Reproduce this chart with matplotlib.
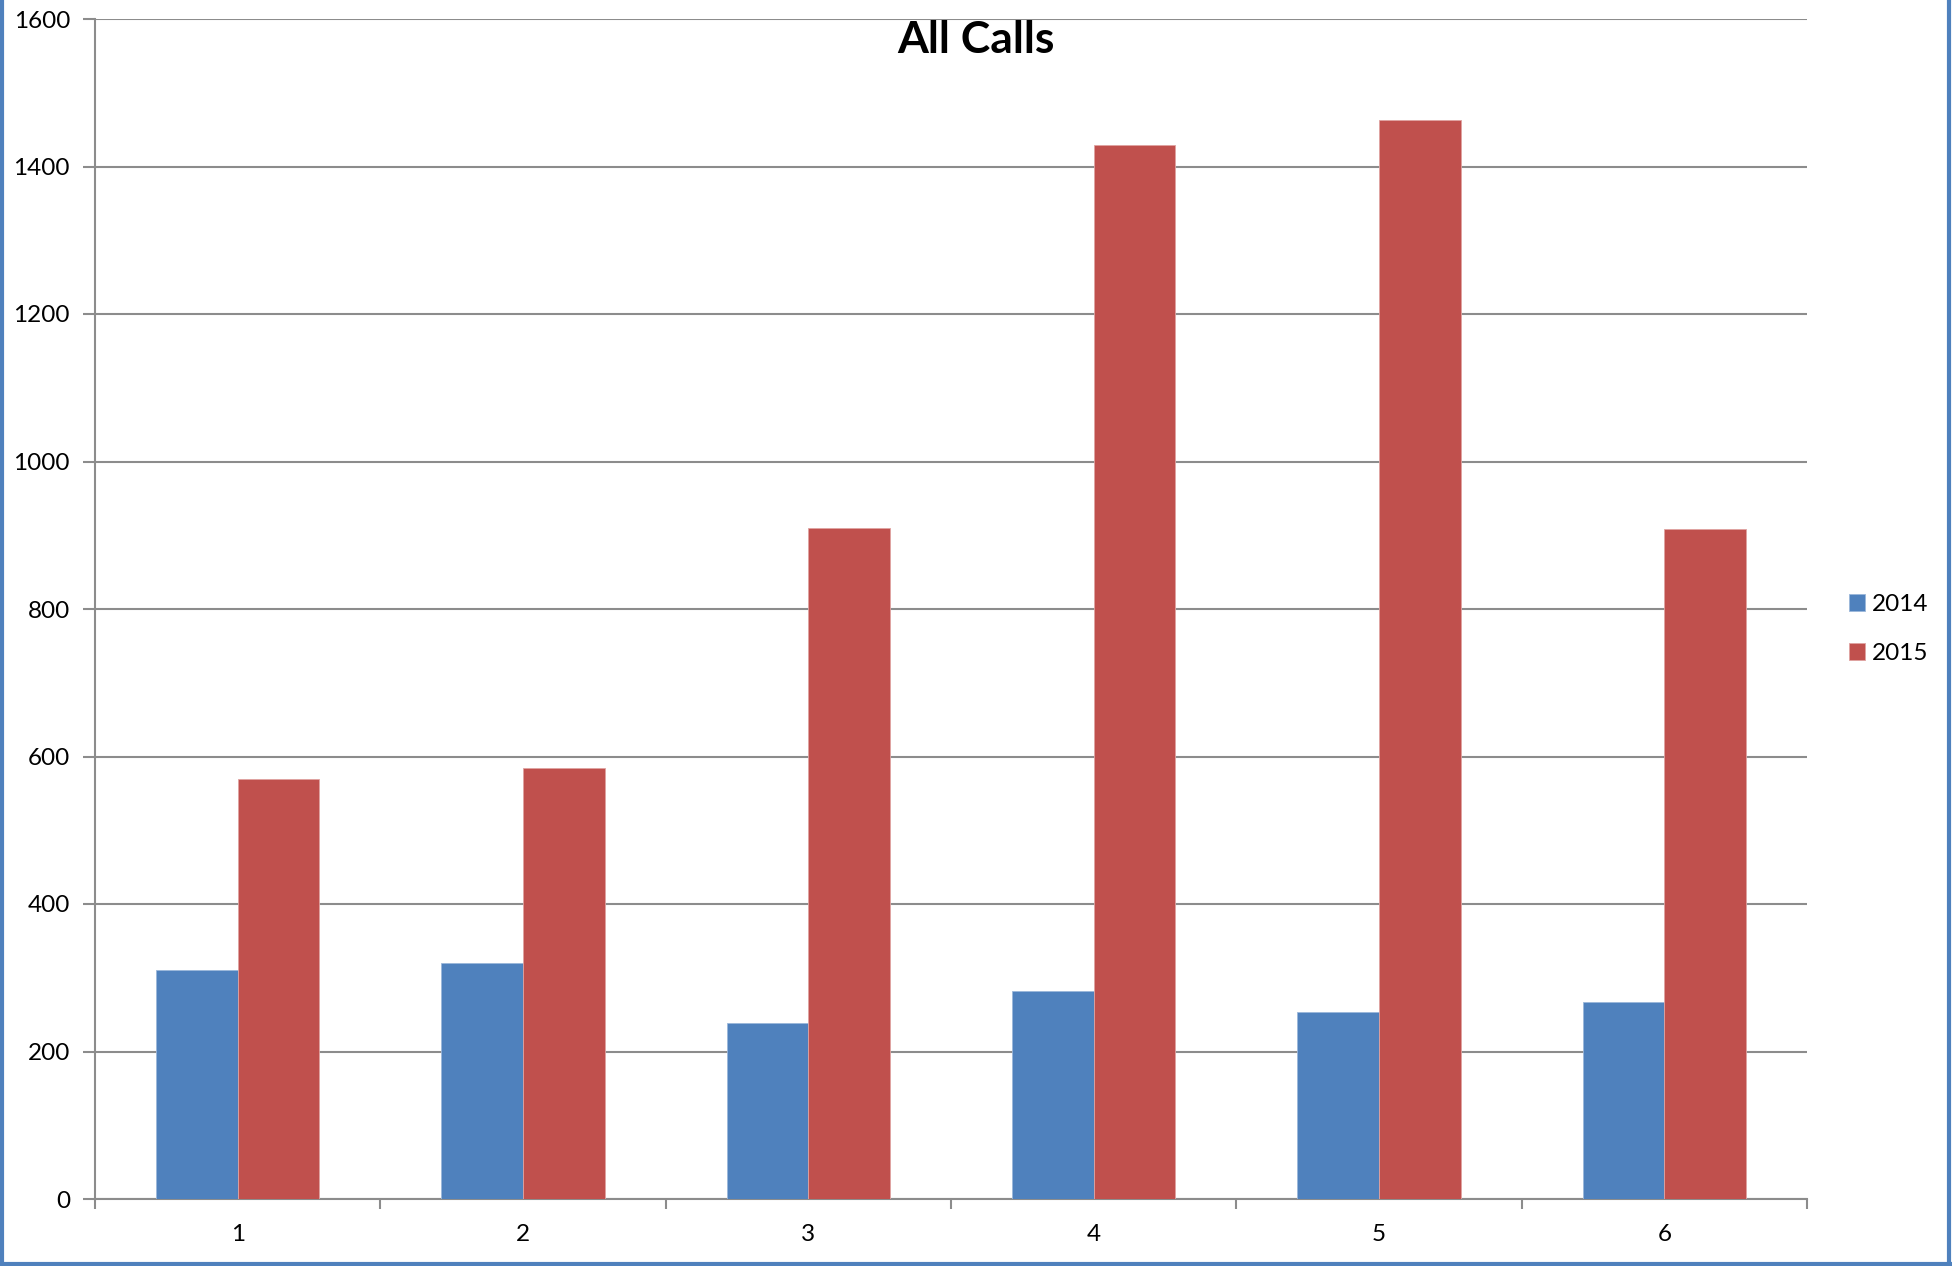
import numpy as np
import matplotlib.pyplot as plt
from matplotlib.lines import Line2D

plt.rcParams['font.family'] = ['Lato', 'DejaVu Sans']

categories = ['1', '2', '3', '4', '5', '6']
calls_2014 = [311, 320, 239, 282, 253, 267]
calls_2015 = [569, 584, 910, 1429, 1463, 908]

blue = '#4F81BD'
red = '#C0504D'
grid_gray = '#8C8C8C'

fig = plt.figure(figsize=(19.52, 12.66), dpi=100)
ax = fig.add_axes([95 / 1952, 1 - 1199 / 1266, (1807 - 95) / 1952, (1199 - 19) / 1266])

x = np.arange(1, len(categories) + 1)
w = 1 / 3.5  # gap width 150%
ax.bar(x - w / 2, calls_2014, w, color=blue, edgecolor='#9BB7DA', linewidth=0.6, label='2014', zorder=3)
ax.bar(x + w / 2, calls_2015, w, color=red, edgecolor='#E0A3A1', linewidth=0.6, label='2015', zorder=3)

ax.set_xlim(0.5, len(categories) + 0.5)
ax.set_ylim(0, 1600)
ax.set_yticks(range(0, 1601, 200))
ax.yaxis.grid(True, color=grid_gray, linewidth=1.5, zorder=0)

# ticks sit between categories, labels at the centres
ax.set_xticks(np.arange(0.5, len(categories) + 1, 1))
ax.set_xticklabels([])
ax.set_xticks(x, minor=True)
ax.set_xticklabels(categories, minor=True)
ax.tick_params(axis='x', which='major', direction='out', length=7, width=1.5, color=grid_gray)
ax.tick_params(axis='x', which='minor', length=0, pad=18, labelsize=17.5)
ax.tick_params(axis='y', direction='out', length=9, width=1.5, color=grid_gray, pad=9, labelsize=17.5)

for s in ['top', 'right']:
    ax.spines[s].set_visible(False)
for s in ['left', 'bottom']:
    ax.spines[s].set_color(grid_gray)
    ax.spines[s].set_linewidth(1.5)

fig.text(0.5, 1 - 40 / 1266, 'All Calls', ha='center', va='center', fontsize=32, fontweight='bold')

fig.legend(loc='center left', bbox_to_anchor=(1849 / 1952, 1 - 629 / 1266), frameon=False,
           fontsize=17.5, handlelength=0.65, handleheight=0.65, handletextpad=0.3,
           labelspacing=1.15, borderpad=0, borderaxespad=0)

# outer border of the chart area
for xs, ys in [([0.0008, 0.0008], [0, 1]), ([0.9985, 0.9985], [0, 1]), ([0, 1], [0.0015, 0.0015])]:
    fig.add_artist(Line2D(xs, ys, transform=fig.transFigure, color=blue, linewidth=3))

fig.savefig('out.png', dpi=100)
